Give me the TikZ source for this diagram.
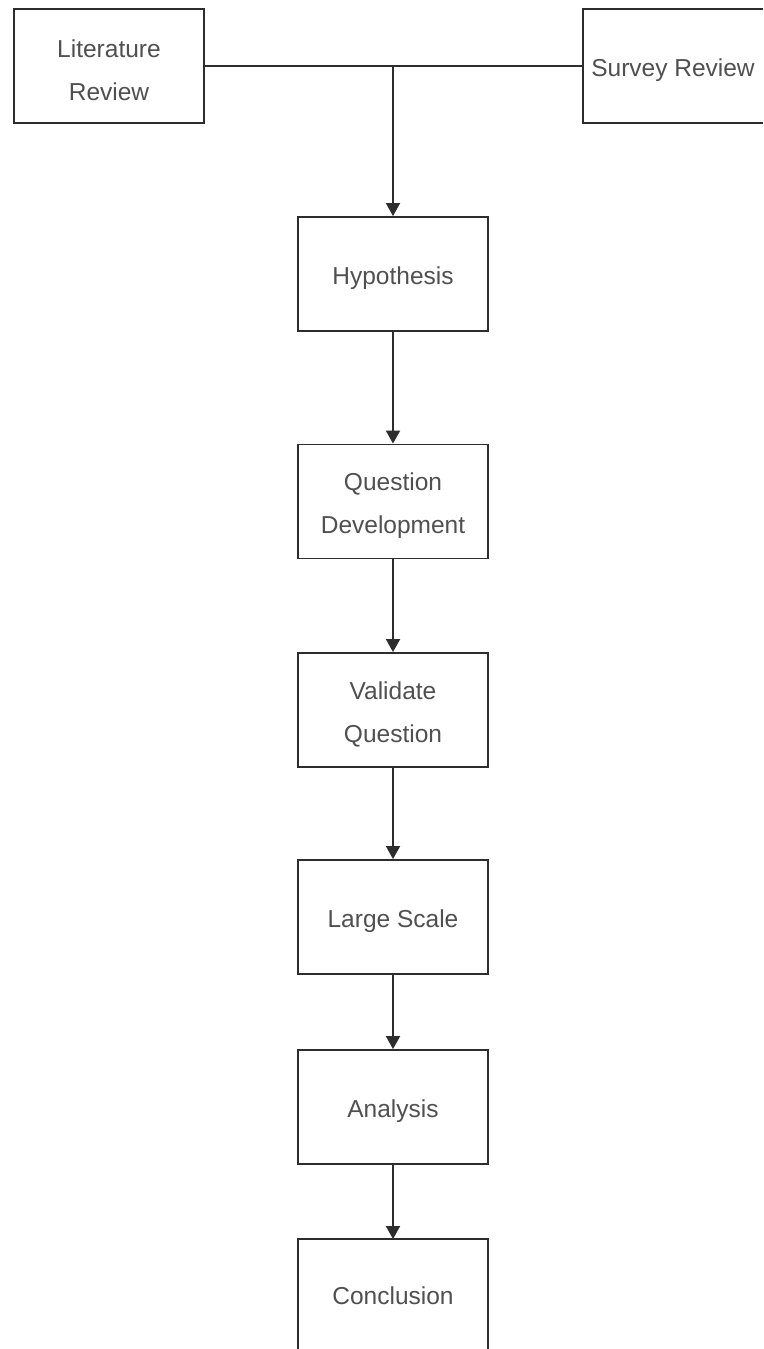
\documentclass[tikz,border=0pt]{standalone}
\usepackage{fontspec}
\setmainfont{Liberation Sans}
\usetikzlibrary{arrows.meta}
\definecolor{edgegray}{RGB}{45,45,45}
\definecolor{textgray}{RGB}{80,80,80}
\tikzset{
  stage/.style={draw=edgegray, line width=1.9pt, fill=white,
    minimum width=190pt, minimum height=114pt, inner sep=0pt},
  openstage/.style={stage, draw=none, outer sep=0pt},
  caption/.style={align=center, text=textgray, inner sep=0pt,
    font=\fontsize{24.5}{43}\selectfont, yshift=-4pt},
  flow/.style={draw=edgegray, line width=1.9pt,
    -{Triangle[width=14pt,length=13pt]}},
  link/.style={draw=edgegray, line width=1.9pt, line join=miter}
}
\begin{document}
\begin{tikzpicture}[x=1pt,y=-1pt]
  \useasboundingbox (0,0) rectangle (763,1349);
  \fill[white] (0,0) rectangle (763,1349);

  % sources feeding the study
  \node[stage, label={[caption]center:{Literature\\Review}}] (lit) at (109,66) {};
  % this box runs off the right margin, so its right side is left open
  \node[openstage, minimum width=180pt,
        label={[caption]center:{Survey Review}}] (sur) at (673,66) {};
  \draw[link] (sur.north east) -- (sur.north west)
              -- (sur.south west) -- (sur.south east);

  % main sequence of stages
  \node[stage, label={[caption]center:{Hypothesis}}]            (hyp)  at (393,274)   {};
  \node[stage, label={[caption]center:{Question\\Development}}] (qdev) at (393,501.5) {};
  \node[stage, label={[caption]center:{Validate\\Question}}]    (val)  at (393,710)   {};
  \node[stage, label={[caption]center:{Large Scale}}]           (lrg)  at (393,917)   {};
  \node[stage, label={[caption]center:{Analysis}}]              (ana)  at (393,1107)  {};
  % this box runs off the bottom margin, so its lower side is left open
  \node[openstage, minimum height=110pt,
        label={[caption, yshift=2pt]center:{Conclusion}}]       (con)  at (393,1294)  {};
  \draw[link] (con.south west) -- (con.north west)
              -- (con.north east) -- (con.south east);

  % merge of both reviews into the hypothesis
  \coordinate (join) at (393,66);
  \draw[link] (lit.east) -- (sur.west);
  \draw[flow] (join) -- (hyp.north);

  \draw[flow] (hyp.south)  -- (qdev.north);
  \draw[flow] (qdev.south) -- (val.north);
  \draw[flow] (val.south)  -- (lrg.north);
  \draw[flow] (lrg.south)  -- (ana.north);
  \draw[flow] (ana.south)  -- (con.north);
\end{tikzpicture}
\end{document}
